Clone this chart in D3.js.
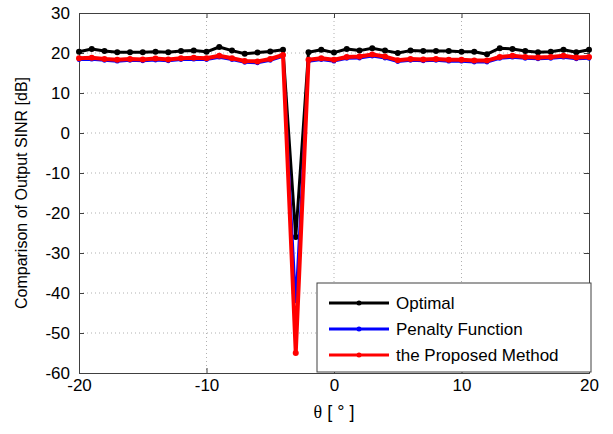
<!DOCTYPE html>
<html><head><meta charset="utf-8">
<script src="https://cdn.jsdelivr.net/npm/d3@7"></script>
<style>body{margin:0;background:#fff}svg{display:block}</style>
</head><body>
<svg id="c" width="613" height="434"></svg>
<script>
const theta = [-20,-19,-18,-17,-16,-15,-14,-13,-12,-11,-10,-9,-8,-7,-6,-5,-4,-3,-2,-1,0,1,2,3,4,5,6,7,8,9,10,11,12,13,14,15,16,17,18,19,20];
const optimal = [20.3,21.0,20.5,20.2,20.2,20.2,20.3,20.2,20.5,20.6,20.3,21.5,20.6,19.8,20.1,20.4,20.8,-26,20.2,20.8,20.1,21.0,20.6,21.2,20.6,20.0,20.6,20.5,20.5,20.5,20.3,20.3,19.7,21.2,21.0,20.5,20.2,20.3,20.8,20.2,20.8];
const penalty = [18.3,18.4,18.1,17.9,18.1,18.0,18.2,18.0,18.3,18.4,18.3,18.9,18.3,17.6,17.5,18.1,19.1,-42,17.9,18.3,17.9,18.6,18.7,19.2,18.7,17.8,18.1,18.0,18.1,17.9,17.9,17.7,17.7,18.6,18.9,18.6,18.5,18.6,18.9,18.5,18.6];
const proposed = [18.7,18.8,18.5,18.3,18.5,18.4,18.6,18.4,18.7,18.8,18.7,19.3,18.7,18.0,17.9,18.5,19.5,-55,18.3,18.7,18.3,19.0,19.1,19.6,19.1,18.2,18.5,18.4,18.5,18.3,18.3,18.1,18.1,19.0,19.3,19.0,18.9,19.0,19.3,18.9,19.0];
const seriesNames = ["Optimal","Penalty Function","the Proposed Method"];
const seriesColors = ["#000000","#0000ff","#ff0000"];
const xTicks = [-20,-10,0,10,20];
const yTicks = [-60,-50,-40,-30,-20,-10,0,10,20,30];
const xLabelSymbol = "θ";
const xLabelUnit = " [ ° ]";
const yLabel = "Comparison of Output SINR [dB]";

const svg = d3.select("#c");
const L=79,R=589,T=13,B=373;
const x = d3.scaleLinear().domain([-20,20]).range([L,R]);
const y = d3.scaleLinear().domain([-60,30]).range([B,T]);
const font = "'Liberation Sans', Arial, sans-serif";
const fmt = d=>String(d);

// grid
const g = svg.append("g");
g.selectAll(".gx").data(xTicks.slice(1,-1)).enter().append("line")
 .attr("x1",d=>x(d)).attr("x2",d=>x(d)).attr("y1",T).attr("y2",B)
 .attr("stroke","#b0b0b0").attr("stroke-width",1).attr("stroke-dasharray","1,3");
g.selectAll(".gy").data(yTicks.slice(1,-1)).enter().append("line")
 .attr("y1",d=>y(d)).attr("y2",d=>y(d)).attr("x1",L).attr("x2",R)
 .attr("stroke","#b0b0b0").attr("stroke-width",1).attr("stroke-dasharray","1,3");

// axes
const ax = svg.append("g").attr("transform",`translate(0,${B})`)
 .call(d3.axisBottom(x).tickValues(xTicks).tickSize(-5).tickPadding(9).tickFormat(fmt));
const ay = svg.append("g").attr("transform",`translate(${L},0)`)
 .call(d3.axisLeft(y).tickValues(yTicks).tickSize(-5).tickPadding(9).tickFormat(fmt));
const axT = svg.append("g").attr("transform",`translate(0,${T})`)
 .call(d3.axisTop(x).tickValues(xTicks).tickSize(-5).tickFormat(""));
const ayR = svg.append("g").attr("transform",`translate(${R},0)`)
 .call(d3.axisRight(y).tickValues(yTicks).tickSize(-5).tickFormat(""));
[ax,ay,axT,ayR].forEach(a=>{
  a.selectAll("path").attr("stroke","#404040").attr("stroke-width",1);
  a.selectAll("line").attr("stroke","#404040");
  a.selectAll("text").attr("font-family",font).attr("font-size",17).attr("fill","#000");
});
ax.selectAll("text").attr("dy","0.55em");

const data = [optimal,penalty,proposed];
const widths=[3,2.5,4];
const line = d3.line().x((d,i)=>x(theta[i])).y(d=>y(d));
data.forEach((s,k)=>{
  svg.append("path").datum(s).attr("d",line).attr("fill","none")
   .attr("stroke",seriesColors[k]).attr("stroke-width",widths[k]).attr("stroke-linejoin","round");
  svg.append("g").selectAll("circle").data(s).enter().append("circle")
   .attr("cx",(d,i)=>x(theta[i])).attr("cy",d=>y(d)).attr("r",k==1?2.2:3)
   .attr("fill",seriesColors[k]);
});

// legend
const lg = svg.append("g");
lg.append("rect").attr("x",317).attr("y",283).attr("width",274).attr("height",89)
 .attr("fill","#fff").attr("stroke","#404040").attr("stroke-width",1);
seriesNames.forEach((n,k)=>{
  const yy = 303 + k*26;
  lg.append("line").attr("x1",329).attr("x2",389).attr("y1",yy).attr("y2",yy)
   .attr("stroke",seriesColors[k]).attr("stroke-width",3);
  lg.append("circle").attr("cx",359).attr("cy",yy).attr("r",2.5).attr("fill",seriesColors[k]);
  lg.append("text").attr("x",396).attr("y",yy).attr("dy","0.35em").text(n)
   .attr("font-family",font).attr("font-size",17).attr("fill","#000");
});

// labels
const xl = svg.append("text").attr("x",334).attr("y",418).attr("text-anchor","middle")
 .attr("font-size",18);
xl.append("tspan").attr("font-family","'Liberation Serif', 'Times New Roman', serif").text(xLabelSymbol);
xl.append("tspan").attr("font-family",font).text(xLabelUnit);
svg.append("text").attr("transform",`translate(27,${(T+B)/2}) rotate(-90)`).attr("text-anchor","middle")
 .attr("font-family",font).attr("font-size",16).text(yLabel);
</script>
</body></html>
